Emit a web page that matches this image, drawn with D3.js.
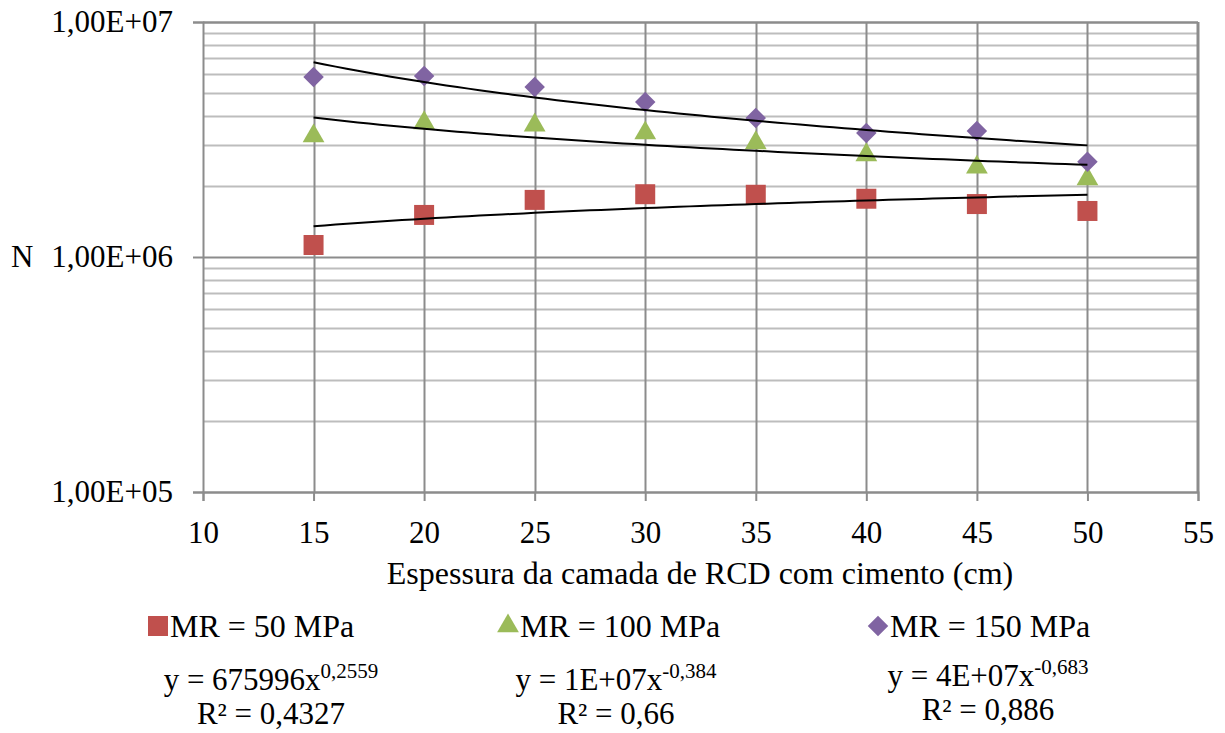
<!DOCTYPE html>
<html>
<head>
<meta charset="utf-8">
<script src="https://cdn.jsdelivr.net/npm/d3@7"></script>
<style>
  body { margin: 0; background: #fff; }
</style>
</head>
<body>
<div id="chart"></div>
<script>
// thickness of the layer (cm)
var thickness = [15, 20, 25, 30, 35, 40, 45, 50];
// N for each modulus
var mr50  = [1.125e6, 1.51e6, 1.75e6, 1.85e6, 1.84e6, 1.77e6, 1.68e6, 1.57e6];
var mr100 = [3.27e6, 3.72e6, 3.64e6, 3.37e6, 3.06e6, 2.72e6, 2.41e6, 2.15e6];
var mr150 = [5.83e6, 5.89e6, 5.29e6, 4.57e6, 3.90e6, 3.37e6, 3.44e6, 2.54e6];
var seriesNames = ["MR = 50 MPa", "MR = 100 MPa", "MR = 150 MPa"];
var xTicks = [10, 15, 20, 25, 30, 35, 40, 45, 50, 55];
var yTicks = [1e5, 1e6, 1e7];
var equations = [
  {base: "y = 675996x", exp: "0,2559", r2: "R² = 0,4327"},
  {base: "y = 1E+07x", exp: "-0,384", r2: "R² = 0,66"},
  {base: "y = 4E+07x", exp: "-0,683", r2: "R² = 0,886"}
];

var W = 1225, H = 733;
var margin = {top: 22, right: 27, bottom: 241, left: 203},
  width = W - margin.left - margin.right,
  height = H - margin.top - margin.bottom;
var serif = "Liberation Serif";

var svg = d3.select("#chart")
  .append("svg")
    .attr("width", W)
    .attr("height", H)
    .attr("font-family", serif);

var g = svg.append("g")
  .attr("transform", "translate(" + margin.left + "," + margin.top + ")");

var x = d3.scaleLinear().domain([10, 55]).range([0, width]);
var y = d3.scaleLog().domain([1e5, 1e7]).range([height, 0]);

// minor horizontal grid
g.selectAll(".minor")
  .data(y.ticks().filter(function(d) { return yTicks.indexOf(d) < 0; }))
  .enter().append("line")
    .attr("x1", 0).attr("x2", width)
    .attr("y1", function(d) { return Math.round(y(d)) + 0.5; })
    .attr("y2", function(d) { return Math.round(y(d)) + 0.5; })
    .style("stroke", "#bdbdbd")
    .style("stroke-width", 2);

// major horizontal grid
g.selectAll(".major")
  .data(yTicks)
  .enter().append("line")
    .attr("x1", 0).attr("x2", width)
    .attr("y1", function(d) { return Math.round(y(d)) + 0.5; })
    .attr("y2", function(d) { return Math.round(y(d)) + 0.5; })
    .style("stroke", "#8c8c8c")
    .style("stroke-width", 2);

// vertical grid
g.selectAll(".vgrid")
  .data(xTicks.slice(1))
  .enter().append("line")
    .attr("x1", function(d) { return Math.round(x(d)) + 0.5; })
    .attr("x2", function(d) { return Math.round(x(d)) + 0.5; })
    .attr("y1", 0).attr("y2", height)
    .style("stroke", "#8c8c8c")
    .style("stroke-width", 2);

// axes
var fmt = function(d) { return "1,00E+" + d3.format("02d")(Math.round(Math.log10(d))); };

var yAxis = g.append("g")
  .call(d3.axisLeft(y).tickValues(yTicks).tickFormat(fmt).tickSize(10).tickPadding(20));

var xAxis = g.append("g")
  .attr("transform", "translate(0," + height + ")")
  .call(d3.axisBottom(x).tickValues(xTicks).tickSize(9).tickPadding(20));

[yAxis, xAxis].forEach(function(a) {
  a.attr("font-family", serif).attr("font-size", 31);
  a.selectAll("text").attr("fill", "#000");
  a.selectAll("line").style("stroke", "#8c8c8c").style("stroke-width", 2);
  a.select(".domain").style("stroke", "#8c8c8c").style("stroke-width", 2);
});

// plot border top / right
g.append("line").attr("x1", 0).attr("x2", width).attr("y1", 0.5).attr("y2", 0.5)
  .style("stroke", "#8c8c8c").style("stroke-width", 2);
g.append("line").attr("x1", width - 0.5).attr("x2", width - 0.5).attr("y1", 0).attr("y2", height)
  .style("stroke", "#8c8c8c").style("stroke-width", 2);

// axis titles
svg.append("text")
  .attr("x", 11).attr("y", margin.top + y(1e6) + 10)
  .attr("font-family", serif)
  .attr("font-size", 31)
  .text("N");

svg.append("text")
  .attr("x", 700).attr("y", 584)
  .attr("text-anchor", "middle")
  .attr("font-family", serif)
  .attr("font-size", 32)
  .text("Espessura da camada de RCD com cimento (cm)");

// series + power trend lines
var diamond = {
  draw: function(ctx, size) {
    var r = Math.sqrt(size) / 2;
    ctx.moveTo(0, -r); ctx.lineTo(r, 0); ctx.lineTo(0, r); ctx.lineTo(-r, 0); ctx.closePath();
  }
};
var series = [
  {name: seriesNames[0], values: mr50,  color: "#C0504D", shape: d3.symbolSquare,   size: 400},
  {name: seriesNames[1], values: mr100, color: "#9BBB59", shape: d3.symbolTriangle, size: 205},
  {name: seriesNames[2], values: mr150, color: "#8064A2", shape: diamond,           size: 420}
];

function powerFit(xs, ys) {
  var lx = xs.map(Math.log), ly = ys.map(Math.log);
  var mx = d3.mean(lx), my = d3.mean(ly);
  var b = d3.sum(lx, function(v, i) { return (v - mx) * (ly[i] - my); }) /
          d3.sum(lx, function(v) { return (v - mx) * (v - mx); });
  var a = Math.exp(my - b * mx);
  return function(t) { return a * Math.pow(t, b); };
}

var line = d3.line()
  .x(function(d) { return x(d[0]); })
  .y(function(d) { return y(d[1]); });

series.forEach(function(s) {
  var f = powerFit(thickness, s.values);
  s.trend = d3.range(15, 50.01, 0.5).map(function(t) { return [t, f(t)]; });
});

series.forEach(function(s) {
  g.selectAll(null)
    .data(s.values)
    .enter().append("path")
      .attr("d", d3.symbol().type(s.shape).size(s.size))
      .attr("transform", function(d, i) { return "translate(" + x(thickness[i]) + "," + y(d) + ")"; })
      .style("fill", s.color);
});

series.forEach(function(s) {
  g.append("path")
    .datum(s.trend)
    .attr("d", line)
    .style("fill", "none")
    .style("stroke", "#000")
    .style("stroke-width", 2);
});

// legend
var legendX = [148, 498, 868];
series.forEach(function(s, i) {
  var lg = svg.append("g").attr("transform", "translate(" + legendX[i] + ",626)");
  lg.append("path")
    .attr("d", d3.symbol().type(s.shape).size(s.size))
    .attr("transform", "translate(10,0)")
    .style("fill", s.color);
  lg.append("text")
    .attr("x", 22).attr("y", 11)
    .attr("font-family", serif)
    .attr("font-size", 32)
    .text(s.name);
});

// trend line equations
var eqX = [271, 616, 988];
var eqY = [690, 690, 686];
equations.forEach(function(e, i) {
  var t = svg.append("text")
    .attr("x", eqX[i]).attr("y", eqY[i])
    .attr("text-anchor", "middle")
    .attr("font-family", serif)
    .attr("font-size", 31);
  t.append("tspan").text(e.base);
  t.append("tspan").attr("dy", -12).attr("font-size", 21).text(e.exp);
  svg.append("text")
    .attr("x", eqX[i]).attr("y", eqY[i] + 34)
    .attr("text-anchor", "middle")
    .attr("font-family", serif)
    .attr("font-size", 31)
    .text(e.r2);
});
</script>
</body>
</html>
